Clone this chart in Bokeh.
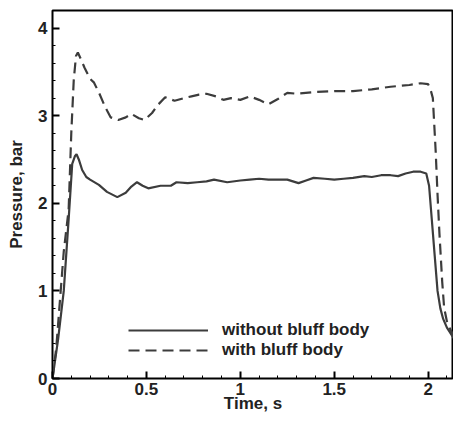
from bokeh.plotting import figure
from bokeh.models import SingleIntervalTicker, Range1d, Legend, LegendItem
from bokeh.embed import file_html
from bokeh.resources import INLINE

# data
t_without = [0.0, 0.03, 0.06, 0.087, 0.105, 0.12, 0.128, 0.14, 0.158, 0.18, 0.2, 0.247, 0.29, 0.345,
             0.39, 0.42, 0.45, 0.48, 0.51, 0.575, 0.63, 0.66, 0.72, 0.77, 0.82, 0.86, 0.93, 1.0,
             1.05, 1.1, 1.15, 1.2, 1.25, 1.31, 1.35, 1.39, 1.45, 1.5, 1.55, 1.6, 1.66, 1.7, 1.75,
             1.8, 1.84, 1.88, 1.92, 1.96, 1.99, 2.005, 2.02, 2.035, 2.05, 2.065, 2.08, 2.1, 2.13,
             2.16, 2.18]
p_without = [0.0, 0.45, 1.0, 1.85, 2.45, 2.54, 2.56, 2.5, 2.38, 2.3, 2.27, 2.21, 2.13, 2.07,
             2.12, 2.19, 2.24, 2.2, 2.17, 2.2, 2.2, 2.24, 2.23, 2.24, 2.25, 2.27, 2.24, 2.26,
             2.27, 2.28, 2.27, 2.27, 2.27, 2.23, 2.26, 2.29, 2.28, 2.27, 2.28, 2.29, 2.31, 2.3, 2.32,
             2.32, 2.31, 2.34, 2.36, 2.36, 2.34, 2.2, 1.8, 1.4, 1.0, 0.8, 0.68, 0.58, 0.48,
             0.39, 0.34]

t_with = [0.0, 0.02, 0.04, 0.06, 0.086, 0.1, 0.113, 0.125, 0.135, 0.15, 0.17, 0.2, 0.22, 0.25,
          0.28, 0.31, 0.35, 0.39, 0.42, 0.46, 0.49, 0.53, 0.56, 0.6, 0.65, 0.7, 0.74, 0.78, 0.82,
          0.87, 0.91, 0.95, 1.0, 1.05, 1.1, 1.15, 1.2, 1.25, 1.3, 1.4, 1.5, 1.6, 1.7, 1.8, 1.9,
          1.96, 2.0, 2.015, 2.025, 2.04, 2.05, 2.06, 2.075, 2.085, 2.1, 2.12, 2.15, 2.18]
p_with = [0.0, 0.35, 0.9, 1.45, 1.93, 2.8, 3.4, 3.68, 3.72, 3.65, 3.55, 3.42, 3.38, 3.25,
          3.1, 2.98, 2.95, 2.98, 3.02, 2.97, 2.95, 3.03, 3.12, 3.21, 3.17, 3.2, 3.22, 3.24, 3.25,
          3.22, 3.18, 3.2, 3.18, 3.22, 3.18, 3.13, 3.19, 3.26, 3.25, 3.27, 3.28, 3.28, 3.3, 3.33, 3.35,
          3.37, 3.36, 3.28, 3.2, 2.6, 2.1, 1.66, 1.1, 0.81, 0.65, 0.55, 0.45, 0.36]

labels = ["without bluff body", "with bluff body"]
x_label = "Time, s"
y_label = "Pressure, bar"

X_END = 2.135
Y_END = 4.2

LINE = "#3c3c3c"
TXT = "#222222"

p = figure(width=453, height=415, output_backend="svg", toolbar_location=None,
           x_range=Range1d(0, X_END), y_range=Range1d(0, Y_END),
           min_border_left=52, min_border_right=0, min_border_top=10, min_border_bottom=30)
p.xgrid.visible = False
p.ygrid.visible = False
p.outline_line_color = "black"
p.outline_line_width = 2

p.xaxis.ticker = SingleIntervalTicker(interval=0.5, num_minor_ticks=5)
p.yaxis.ticker = SingleIntervalTicker(interval=1, num_minor_ticks=5)
for ax in (p.xaxis, p.yaxis):
    ax.major_tick_in = 7
    ax.major_tick_out = 0
    ax.minor_tick_in = 3
    ax.minor_tick_out = 0
    ax.major_tick_line_width = 2
    ax.major_tick_line_color = "black"
    ax.minor_tick_line_color = "black"
    ax.major_label_text_font_size = "17px"
    ax.major_label_text_font_style = "bold"
    ax.major_label_text_color = TXT
    ax.axis_label_text_font_size = "17px"
    ax.axis_label_text_font_style = "bold"
    ax.axis_label_text_color = TXT

p.xaxis.axis_label = x_label
p.xaxis.major_label_standoff = 4
p.xaxis.axis_label_standoff = -4
p.yaxis.axis_label = y_label
p.yaxis.major_label_standoff = 5
p.yaxis.axis_label_standoff = 9

r1 = p.line(t_without, p_without, line_color=LINE, line_width=2.2)
r2 = p.line(t_with, p_with, line_color=LINE, line_width=2.2, line_dash="11 6")

legend = Legend(items=[LegendItem(label=labels[0], renderers=[r1]),
                       LegendItem(label=labels[1], renderers=[r2])],
                location=(66, 8), spacing=0, glyph_width=80, label_standoff=14,
                border_line_alpha=0, background_fill_color=None,
                label_text_font_size="17px",
                label_text_font_style="bold", label_text_color=TXT)
p.add_layout(legend, "center")

open("out.html", "w").write(file_html(p, INLINE))
